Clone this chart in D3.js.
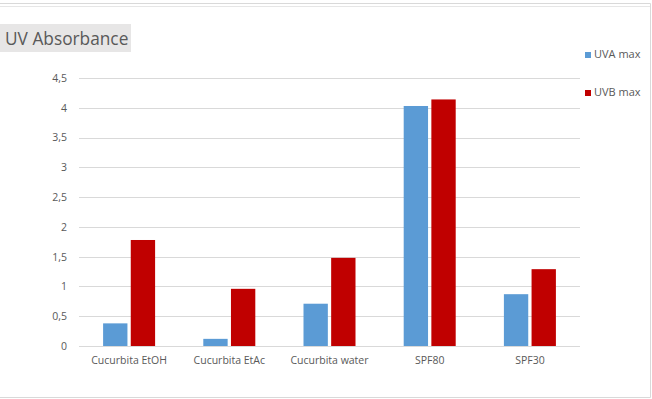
<!DOCTYPE html>
<body style="margin:0;background:#fff">
<svg width="652" height="399"></svg>
<script src="https://d3js.org/d3.v7.min.js"></script>
<script>

var categories = ["Cucurbita EtOH", "Cucurbita EtAc", "Cucurbita water", "SPF80", "SPF30"];
var seriesNames = ["UVA max", "UVB max"];
var uvaMax = [0.38, 0.12, 0.71, 4.03, 0.87];
var uvbMax = [1.78, 0.96, 1.48, 4.14, 1.29];
var yTicks = [0, 0.5, 1, 1.5, 2, 2.5, 3, 3.5, 4, 4.5];
var colors = ["#5b9bd5", "#c00000"];

var svg = d3.select("svg"),
    margin = {top: 78, right: 72, bottom: 53, left: 79},
    width = +svg.attr("width") - margin.left - margin.right,
    height = +svg.attr("height") - margin.top - margin.bottom;

var font = "'Open Sans', sans-serif";
var textColor = "#595959";

// frame
svg.append("path")
    .attr("d", "M0,3.5H650.5V397.5H0")
    .attr("fill", "none").attr("stroke", "#d9d9d9");
svg.append("line")
    .attr("x1", 0).attr("x2", 650).attr("y1", 6.5).attr("y2", 6.5)
    .attr("stroke", "#e6e6e6");

// title
svg.append("rect")
    .attr("x", 0).attr("y", 24).attr("width", 131).attr("height", 28)
    .attr("fill", "#e7e6e6");
svg.append("text")
    .attr("x", 5).attr("y", 45)
    .attr("font-family", font).attr("font-size", 17.3)
    .attr("fill", textColor)
    .text("UV Absorbance");

var g = svg.append("g").attr("transform", "translate(" + margin.left + "," + margin.top + ")");

var x0 = d3.scaleBand().domain(categories).range([0, width]);
var x1 = d3.scaleBand().domain(seriesNames).range([0, 52]).paddingInner(0.12);
var y = d3.scaleLinear().domain([0, 4.5]).range([height, 0]);

var fmt = function(d) { return String(d).replace(".", ","); };

// gridlines
g.selectAll(".grid")
    .data(yTicks)
  .enter().append("line")
    .attr("x1", 0).attr("x2", width)
    .attr("y1", function(d) { return Math.round(y(d)) + 0.5; })
    .attr("y2", function(d) { return Math.round(y(d)) + 0.5; })
    .attr("stroke", "#d9d9d9");

var yAxis = g.append("g")
    .call(d3.axisLeft(y).tickValues(yTicks).tickFormat(fmt).tickSize(0).tickPadding(12));
yAxis.select(".domain").remove();
yAxis.selectAll("text")
    .attr("font-family", font).attr("font-size", 10.5).attr("fill", textColor);

var xAxis = g.append("g")
    .attr("transform", "translate(0," + height + ")")
    .call(d3.axisBottom(x0).tickSize(0).tickPadding(11));
xAxis.select(".domain").remove();
xAxis.selectAll("text")
    .attr("font-family", font).attr("font-size", 10.5).attr("fill", textColor);

var data = categories.map(function(c, i) {
  return {cat: c, values: [
    {key: seriesNames[0], v: uvaMax[i]},
    {key: seriesNames[1], v: uvbMax[i]}
  ]};
});

g.selectAll(".cat")
    .data(data)
  .enter().append("g")
    .attr("transform", function(d) { return "translate(" + (x0(d.cat) + x0.bandwidth() / 2 - 26) + ",0)"; })
  .selectAll("rect")
    .data(function(d) { return d.values; })
  .enter().append("rect")
    .attr("x", function(d) { return x1(d.key); })
    .attr("width", x1.bandwidth())
    .attr("y", function(d) { return y(d.v); })
    .attr("height", function(d) { return height - y(d.v); })
    .attr("fill", function(d, i) { return colors[i]; });

// legend
var legend = svg.selectAll(".legend")
    .data(seriesNames)
  .enter().append("g")
    .attr("transform", function(d, i) { return "translate(585," + (52 + i * 38) + ")"; });
legend.append("rect")
    .attr("width", 6).attr("height", 6)
    .attr("fill", function(d, i) { return colors[i]; });
legend.append("text")
    .attr("x", 9).attr("y", 6)
    .attr("font-family", font).attr("font-size", 11).attr("fill", textColor)
    .text(function(d) { return d; });

</script>
</body>
